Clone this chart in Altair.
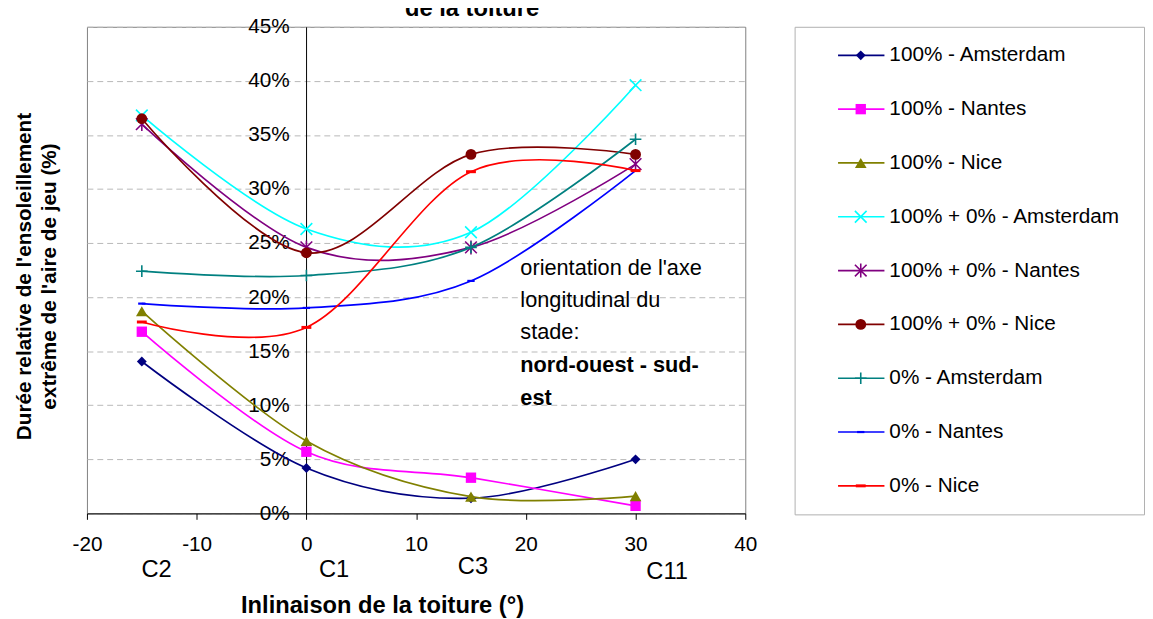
import altair as alt
import pandas as pd

# ---------------- data ----------------
inclinaison = [-15, 0, 15, 30]
configurations = ["C2", "C1", "C3", "C11"]

series_names = [
    "100% - Amsterdam",
    "100% - Nantes",
    "100% - Nice",
    "100% + 0% - Amsterdam",
    "100% + 0% - Nantes",
    "100% + 0% - Nice",
    "0% - Amsterdam",
    "0% - Nantes",
    "0% - Nice",
]

v_100_amsterdam = [0.1405, 0.042, 0.014, 0.050]
v_100_nantes = [0.168, 0.057, 0.033, 0.007]
v_100_nice = [0.187, 0.067, 0.0155, 0.016]
v_100_0_amsterdam = [0.368, 0.263, 0.260, 0.396]
v_100_0_nantes = [0.360, 0.246, 0.246, 0.323]
v_100_0_nice = [0.365, 0.241, 0.332, 0.332]
v_0_amsterdam = [0.224, 0.220, 0.246, 0.346]
v_0_nantes = [0.194, 0.190, 0.215, 0.317]
v_0_nice = [0.177, 0.172, 0.316, 0.317]

series_values = [
    v_100_amsterdam, v_100_nantes, v_100_nice,
    v_100_0_amsterdam, v_100_0_nantes, v_100_0_nice,
    v_0_amsterdam, v_0_nantes, v_0_nice,
]

annotation_normal = ["orientation de l'axe", "longitudinal du", "stade:"]
annotation_bold = ["nord-ouest - sud-", "est"]

# ---------------- styles ----------------
FONT = "Liberation Sans"
colors = ["#000080", "#FF00FF", "#808000", "#00FFFF", "#800080",
          "#800000", "#008080", "#0000FF", "#FF0000"]
X_PATH = "M-1,-1L1,1M-1,1L1,-1"
STAR_PATH = "M-1,-1L1,1M-1,1L1,-1M0,-1.2L0,1.2"
PLUS_PATH = "M-1,0L1,0M0,-1L0,1"
DASH_PATH = "M-1,-0.3L1,-0.3L1,0.3L-1,0.3Z"
shapes = ["diamond", "square", "triangle-up", X_PATH, STAR_PATH,
          "circle", PLUS_PATH, DASH_PATH, DASH_PATH]
filled = [True, True, True, False, False, True, False, True, True]
sizes = [100, 110, 140, 140, 140, 120, 140, 55, 100]

W, H = 667, 493

x_scale = alt.Scale(domain=[-20, 40], nice=False, zero=False)
y_scale = alt.Scale(domain=[0, 0.45], nice=False)

x_axis = alt.Axis(
    values=[-20, -10, 0, 10, 20, 30, 40], grid=False,
    labelExpr="datum.value + ''",
    title="Inlinaison de la toiture (°)",
    domainColor="black", tickColor="black", tickSize=6, domainWidth=1,
    labelFontSize=21, labelColor="black", labelPadding=15, labelFlush=False,
    titleFontSize=24, titleFontWeight="bold", titleColor="black",
    titlePadding=39, titleX=299,
)
y_axis = alt.Axis(
    values=[i * 0.05 for i in range(10)], format=".0%",
    offset=-222, grid=True, gridDash=[6, 4], gridColor="#b8b8b8",
    domainColor="black", ticks=False,
    labelFontSize=21, labelColor="black", labelPadding=17, labelFlush=False,
    title=["Durée relative de l'ensoleillement", "extrême de l'aire de jeu (%)"],
    titleFontSize=21, titleFontWeight="bold", titleColor="black",
    titleX=-275.5, titleY=H / 2 + 6, titleAngle=270, titleLineHeight=26,
)

layers = []
for name, vals, color, shape, fill, size in zip(series_names, series_values, colors, shapes, filled, sizes):
    d = pd.DataFrame({"inclinaison": inclinaison, "valeur": vals, "serie": name})
    base = alt.Chart(d).encode(
        x=alt.X("inclinaison:Q", scale=x_scale, axis=x_axis),
        y=alt.Y("valeur:Q", scale=y_scale, axis=y_axis),
    )
    layers.append(base.mark_line(color=color, strokeWidth=1.7, interpolate="cardinal"))
    layers.append(base.mark_point(shape=shape, filled=fill, color=color, size=size,
                                  strokeWidth=1.6, opacity=1))

# configuration labels under the axis
cfg_dx = [15, 28, 2, 32]
cfg_dy = [57, 57, 54, 59]
for cfg, inc, dx, dy in zip(configurations, inclinaison, cfg_dx, cfg_dy):
    d = pd.DataFrame({"inclinaison": [inc], "cfg": [cfg]})
    layers.append(
        alt.Chart(d).mark_text(fontSize=24, color="black", dx=dx, baseline="middle")
        .encode(x=alt.X("inclinaison:Q", scale=x_scale, axis=x_axis),
                y=alt.value(H + dy), text="cfg:N")
    )

# annotation
ann = pd.DataFrame({"a": [0]})
layers.append(
    alt.Chart(ann).mark_text(text=annotation_normal, align="left", baseline="middle",
                             fontSize=22, lineHeight=32.5, color="black")
    .encode(x=alt.datum(19.5, scale=x_scale), y=alt.datum(0.2273, scale=y_scale))
)
layers.append(
    alt.Chart(ann).mark_text(text=annotation_bold, align="left", baseline="middle",
                             fontSize=22, fontWeight="bold", lineHeight=33, color="black")
    .encode(x=alt.datum(19.5, scale=x_scale), y=alt.datum(0.1369, scale=y_scale))
)

main = alt.layer(*layers).properties(
    width=W, height=H, view=alt.ViewBackground(stroke="#808080", strokeWidth=1)
)

# ---------------- legend panel ----------------
y_leg = alt.Y("serie:N", sort=series_names,
              scale=alt.Scale(type="point", padding=0.53, domain=series_names), axis=None)
leg_layers = []
for name, color, shape, fill, size in zip(series_names, colors, shapes, filled, sizes):
    d = pd.DataFrame({"serie": [name]})
    leg_layers.append(alt.Chart(d).mark_rule(color=color, strokeWidth=1.7)
                      .encode(x=alt.value(44), x2=alt.value(91), y=y_leg))
    leg_layers.append(alt.Chart(d).mark_point(shape=shape, filled=fill, color=color, size=size,
                                              strokeWidth=1.6, opacity=1)
                      .encode(x=alt.value(67), y=y_leg))
leg_layers.append(
    alt.Chart(pd.DataFrame({"serie": series_names}))
    .mark_text(align="left", baseline="middle", fontSize=21, color="black")
    .encode(x=alt.value(96), y=y_leg, text="serie:N")
)
legend = alt.layer(*leg_layers).properties(
    width=354, height=494, view=alt.ViewBackground(stroke="#b0b0b0", strokeWidth=1)
)

chart = alt.hconcat(main, legend, spacing=50, bounds="flush").properties(
    title=alt.TitleParams("de la toiture", fontSize=24, fontWeight="bold", color="black",
                          anchor="middle", dx=-108, offset=-5.5),
    padding={"left": 5, "top": -15, "right": 0, "bottom": 0},
).configure(font=FONT)

chart.save("out.html", embed_options={"renderer": "svg", "actions": False})
